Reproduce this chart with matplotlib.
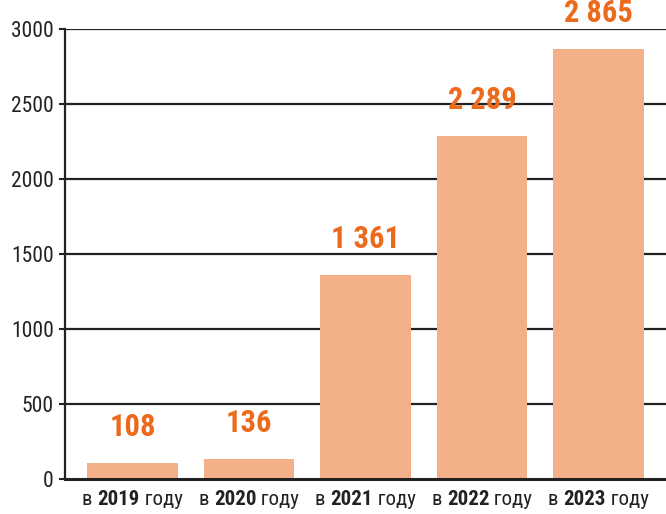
import matplotlib
matplotlib.use("Agg")
import matplotlib.pyplot as plt

years = ["2019", "2020", "2021", "2022", "2023"]
values = [108, 136, 1361, 2289, 2865]
value_labels = ["108", "136", "1 361", "2 289", "2 865"]
prefix = "в "
suffix = " году"
yticks = [0, 500, 1000, 1500, 2000, 2500, 3000]

plt.rcParams['font.family'] = ['Roboto Condensed', 'DejaVu Sans']

BAR = "#F3AF88"
ORANGE = "#EB6A1C"
DARK = "#222222"

fig = plt.figure(figsize=(6.66, 5.14), dpi=100)
ax = fig.add_axes([65/666, 35/514, 1 - 65/666, 450/514])

x = list(range(len(years)))
ax.bar(x, values, width=0.78, color=BAR, zorder=2)
ax.set_xlim(-0.58, 4.58)
ax.set_ylim(0, 3000)
ax.set_yticks(yticks)
ax.set_yticklabels([str(t) for t in yticks], fontsize=15.5, color=DARK)
ax.tick_params(axis='y', length=4, width=1.5, color=DARK, pad=4)
ax.tick_params(axis='x', length=0, labelbottom=False)
for t in yticks[1:]:
    ax.axhline(t, color=DARK, lw=1.6, zorder=1)
ax.axhline(0, color=DARK, lw=2.2, zorder=3, clip_on=False)
for s in ["top", "right", "bottom"]:
    ax.spines[s].set_visible(False)
ax.spines["left"].set_linewidth(1.6)
ax.spines["left"].set_color(DARK)

for xi, v, lab in zip(x, values, value_labels):
    ax.annotate(lab, (xi, v), xytext=(0, 15), textcoords="offset points",
                ha="center", va="bottom", fontsize=22, fontweight="bold",
                color=ORANGE, annotation_clip=False)

# mixed-weight x labels
fig.canvas.draw()
r = fig.canvas.get_renderer()
px2pt = 72 / fig.dpi
BASE = -19
for xi, y in zip(x, years):
    parts = [(prefix, "normal"), (y, "bold"), (suffix, "normal")]
    texts, widths = [], []
    for s, w in parts:
        t = ax.annotate(s, (xi, 0), xytext=(0, BASE), textcoords="offset points",
                        ha="left", va="baseline", fontsize=15, fontweight=w,
                        color=DARK, annotation_clip=False)
        texts.append(t)
        widths.append(t.get_window_extent(r).width)
    start = -sum(widths) / 2
    for t, wd in zip(texts, widths):
        t.xyann = (start * px2pt, BASE)
        start += wd

fig.savefig("out.png", dpi=100)
